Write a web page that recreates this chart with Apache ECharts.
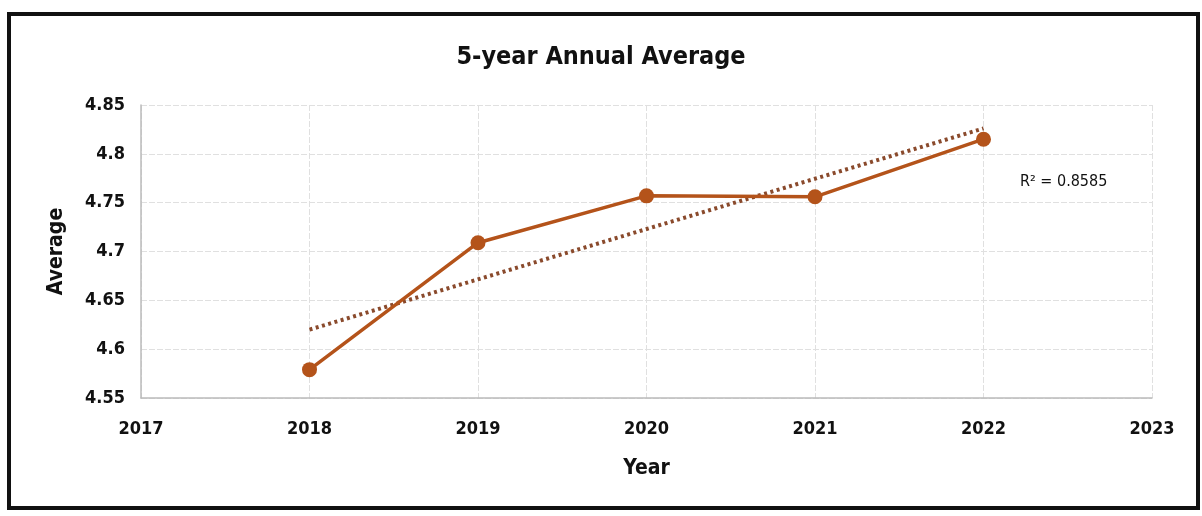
<!DOCTYPE html>
<html>
<head>
<meta charset="utf-8">
<style>
  html, body { margin: 0; padding: 0; background: #fff; }
  #chart { width: 1202px; height: 516px; }
</style>
<script src="https://cdn.jsdelivr.net/npm/echarts@6/dist/echarts.min.js"></script>
</head>
<body>
<div id="chart"></div>
<script>
const years = [2018, 2019, 2020, 2021, 2022];
const averages = [4.579, 4.709, 4.757, 4.756, 4.815];
const trendYears = [2018, 2022];
const trendValues = [4.620, 4.826];
const rSquaredText = 'R² = 0.8585';
const xTicks = [2017, 2023];
const yTicks = [4.55, 4.85, 0.05];

const FONT = "'DejaVu Sans Condensed', 'Liberation Sans', Arial, sans-serif";
const chart = echarts.init(document.getElementById('chart'));
chart.setOption({
  animation: false,
  backgroundColor: '#fff',
  title: {
    text: '5-year Annual Average',
    left: 'center',
    top: 40,
    textStyle: { fontFamily: FONT, fontWeight: 'bold', fontSize: 25, color: '#111' }
  },
  grid: { left: 141, right: 50, top: 105, bottom: 118 },
  xAxis: {
    type: 'value',
    min: xTicks[0], max: xTicks[1], interval: 1,
    name: 'Year',
    nameLocation: 'middle',
    nameGap: 60,
    nameTextStyle: { fontFamily: FONT, fontWeight: 'bold', fontSize: 21, color: '#111' },
    axisLine: { show: true, lineStyle: { color: '#bbb', width: 1.5 } },
    axisTick: { show: false },
    axisLabel: { fontFamily: FONT, fontWeight: 'bold', fontSize: 18, color: '#111', margin: 22, formatter: v => String(v) },
    splitLine: { show: true, lineStyle: { color: '#e0e0e0', type: [6, 2] } }
  },
  yAxis: {
    type: 'value',
    min: yTicks[0], max: yTicks[1], interval: yTicks[2],
    name: 'Average',
    nameLocation: 'middle',
    nameGap: 74,
    nameRotate: 90,
    nameTextStyle: { fontFamily: FONT, fontWeight: 'bold', fontSize: 21, color: '#111' },
    axisLine: { show: true, lineStyle: { color: '#bbb', width: 1.5 } },
    axisTick: { show: false },
    axisLabel: { fontFamily: FONT, fontWeight: 'bold', fontSize: 18, color: '#111', margin: 16, formatter: v => String(+v.toFixed(2)) },
    splitLine: { show: true, lineStyle: { color: '#e0e0e0', type: [6, 2] } }
  },
  series: [
    {
      type: 'line',
      data: trendYears.map((y, i) => [y, trendValues[i]]),
      symbol: 'none',
      lineStyle: { color: '#8a4a2c', width: 4, type: [3, 3.5] },
      z: 2
    },
    {
      type: 'line',
      data: years.map((y, i) => [y, averages[i]]),
      symbol: 'circle',
      symbolSize: 15,
      itemStyle: { color: '#b4531a' },
      lineStyle: { color: '#b4531a', width: 3.5 },
      z: 3
    }
  ],
  graphic: [
    {
      type: 'rect',
      shape: { x: 9, y: 14, width: 1189, height: 494 },
      style: { fill: 'none', stroke: '#111', lineWidth: 4 },
      silent: true
    },
    {
      type: 'text',
      left: 1020,
      top: 174,
      style: { text: rSquaredText, fontFamily: FONT, fontSize: 16, fill: '#111' }
    }
  ]
});
</script>
</body>
</html>
